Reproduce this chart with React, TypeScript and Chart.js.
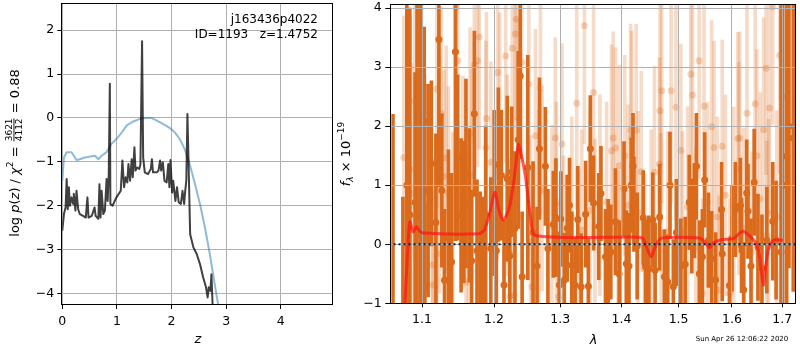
import React, { useEffect, useRef } from "react";
import { Chart, registerables } from "chart.js";
Chart.register(...registerables);

const FONT = "'DejaVu Sans', Verdana, sans-serif";

// ---------- left panel: log p(z) and chi2 ----------
const zP = [0, 0.03, 0.06, 0.08, 0.10, 0.12, 0.14, 0.17, 0.20, 0.21, 0.24, 0.26, 0.29, 0.32, 0.38, 0.43, 0.46, 0.48, 0.54, 0.59, 0.61, 0.66, 0.68, 0.70, 0.72, 0.75, 0.78, 0.81, 0.83, 0.85, 0.87, 0.88, 0.92, 0.99, 1.07, 1.10, 1.13, 1.16, 1.19, 1.21, 1.24, 1.27, 1.29, 1.32, 1.34, 1.37, 1.41, 1.43, 1.46, 1.48, 1.51, 1.57, 1.62, 1.64, 1.66, 1.73, 1.76, 1.79, 1.81, 1.84, 1.87, 1.91, 1.94, 1.96, 1.98, 2.01, 2.03, 2.07, 2.10, 2.13, 2.17, 2.20, 2.23, 2.25, 2.27, 2.29, 2.31, 2.34, 2.40, 2.46, 2.52, 2.58, 2.63, 2.66, 2.68, 2.71, 2.73, 2.75, 2.77];
const logP = [-2.57, -2.19, -2.04, -1.39, -2.08, -1.58, -2.0, -1.81, -1.96, -1.73, -2.11, -1.66, -2.08, -2.19, -2.23, -2.27, -1.81, -2.27, -2.23, -2.04, -2.23, -2.30, -1.51, -2.27, -1.66, -2.19, -2.11, -1.39, -1.89, -1.28, 0.78, -1.96, -2.0, -1.81, -1.66, -0.97, -1.58, -1.35, -1.47, -1.05, -1.43, -0.94, -1.35, -0.67, -1.20, -1.13, -1.16, -1.05, 1.75, -0.90, -1.24, -1.28, -1.16, -0.94, -1.24, -1.24, -1.2, -0.97, -1.20, -1.01, -1.43, -1.47, -1.05, -1.58, -0.96, -1.70, -1.43, -1.89, -1.58, -1.92, -1.96, -1.66, -1.96, -1.66, -1.43, 0.09, -0.97, -2.65, -2.95, -3.10, -3.33, -3.64, -3.86, -4.09, -3.86, -3.94, -3.56, -4.24, -5.0];
const zChi = [0, 0.03, 0.08, 0.17, 0.21, 0.26, 0.32, 0.41, 0.51, 0.60, 0.66, 0.72, 0.81, 0.90, 0.99, 1.09, 1.18, 1.30, 1.42, 1.54, 1.63, 1.73, 1.85, 1.97, 2.06, 2.15, 2.24, 2.34, 2.43, 2.52, 2.61, 2.70, 2.79, 2.85, 2.90];
const chiV = [-1.43, -0.90, -0.78, -0.78, -0.86, -0.96, -0.94, -0.90, -0.88, -0.86, -0.94, -0.86, -0.78, -0.59, -0.48, -0.33, -0.17, -0.08, -0.02, 0.0, 0.0, -0.06, -0.14, -0.23, -0.33, -0.48, -0.71, -1.09, -1.51, -1.96, -2.49, -3.10, -3.79, -4.24, -4.70];
const zTicks = [0, 1, 2, 3, 4];
const pTicks = [-4, -3, -2, -1, 0, 1, 2];
const objName = "j163436p4022";
const objInfo = "ID=1193   z=1.4752";
const chiNum = "3621";
const chiDen = "4112";
const chiRatio = "0.88";

// ---------- right panel: spectrum ----------
const lamA = [1.0620, 1.0749, 1.0800, 1.0839, 1.0908, 1.0934, 1.0981, 1.1029, 1.1037, 1.1081,
  1.1125, 1.1186, 1.1227, 1.1267, 1.1303, 1.1357, 1.1400, 1.1453, 1.1484, 1.1532,
  1.1571, 1.1600, 1.1648, 1.1680, 1.1718, 1.1756, 1.1802, 1.1840, 1.1880, 1.1954,
  1.2002, 1.2034, 1.2064, 1.2107, 1.2146, 1.2194, 1.2230, 1.2260, 1.2308, 1.2356,
  1.2386, 1.2415, 1.2500, 1.2580, 1.2641, 1.2678, 1.2769, 1.2808, 1.2892, 1.2932,
  1.2986, 1.3010, 1.3064, 1.3110, 1.3147, 1.3183, 1.3236, 1.3279, 1.3333, 1.3406,
  1.3450, 1.3482, 1.3535, 1.3620, 1.3656, 1.3731, 1.3776, 1.3820, 1.3897, 1.3960,
  1.4042, 1.4081, 1.4127, 1.4166, 1.4195, 1.4212, 1.4267, 1.4372, 1.4413, 1.4470,
  1.4540, 1.4580, 1.4660, 1.4745, 1.4804, 1.4845, 1.4905, 1.4960, 1.5041, 1.5120,
  1.5194, 1.5242, 1.5290, 1.5327, 1.5380, 1.5438, 1.5480, 1.5550, 1.5612, 1.5686,
  1.5799, 1.5812, 1.5951, 1.6000, 1.6066, 1.6163, 1.6186, 1.6228, 1.6287, 1.6313,
  1.6372, 1.6435, 1.6510, 1.6590, 1.6688, 1.6808, 1.6876, 1.6977, 1.7011, 1.7093,
  1.7140, 1.7230];
const fluxA = [-1.50, -1.20, 1.00, 0.50, 0.71, 0.47, 0.20, 2.08, -0.72, 0.91,
  1.37, 0.37, 3.47, 0.91, -0.61, 0.10, -0.30, 3.26, 1.47, 0.49,
  0.55, 1.20, 0.66, -0.28, 2.21, -0.11, -0.21, -0.40, 0.50, -0.07,
  0.87, -0.11, 1.35, 1.17, -0.69, 1.11, -0.20, 1.23, 0.27, 1.77,
  2.85, -0.55, 1.30, 0.20, -0.37, 1.62, 1.32, -0.07, 0.34, 0.45,
  -0.69, 0.43, -0.61, 0.27, 0.66, -0.35, -0.69, 0.42, -0.72, 0.51,
  -0.71, 1.62, 0.70, 0.30, 0.86, -0.21, -0.14, -0.13, 0.38, -0.50,
  0.94, -0.33, -0.37, 1.00, 1.32, 0.68, -0.03, 0.45, -0.38, -0.42,
  0.41, -0.44, 0.46, -0.55, -0.64, 1.00, -0.72, 0.20, -0.37, -0.34,
  0.71, 0.31, 0.57, 1.32, -0.50, -0.21, 1.09, 0.07, -0.24, -0.60,
  0.59, -0.16, -0.70, 0.10, 0.59, 0.66, -0.02, -0.77, 0.87, 0.56,
  -0.37, 1.05, -0.05, -0.40, 0.07, 0.39, 0.07, -0.13, 1.00, 1.49,
  2.00, 1.80];
const errA = [3.70, 2.00, 4.00, 3.50, 2.20, 3.60, 4.00, 1.60, 1.40, 1.80,
  1.40, 1.50, 2.50, 1.30, 1.20, 1.50, 1.50, 3.20, 1.40, 1.30,
  1.20, 1.60, 1.30, 1.20, 1.40, 1.20, 1.10, 1.20, 1.50, 1.20,
  1.40, 1.10, 1.30, 1.10, 1.10, 1.40, 1.30, 1.10, 1.30, 1.50,
  1.40, 1.10, 1.90, 1.20, 1.00, 1.20, 1.00, 1.00, 0.90, 1.00,
  0.90, 0.80, 0.80, 0.90, 0.80, 0.90, 0.80, 0.90, 0.90, 0.90,
  0.80, 0.90, 0.80, 0.90, 0.80, 0.80, 0.90, 0.80, 0.90, 0.90,
  0.80, 0.90, 0.90, 0.80, 0.90, 0.80, 0.90, 0.80, 0.80, 0.90,
  0.80, 0.80, 0.90, 0.80, 0.80, 0.90, 0.80, 0.90, 0.80, 0.80,
  0.80, 0.80, 0.80, 0.90, 0.90, 0.80, 0.80, 0.80, 0.80, 0.80,
  0.80, 0.80, 0.80, 0.90, 0.80, 0.80, 0.80, 0.80, 0.90, 0.80,
  0.80, 0.90, 0.90, 0.90, 0.90, 1.00, 1.00, 4.50, 5.00, 2.80,
  2.40, 2.60];

const lamB = [1.0761, 1.0815, 1.0839, 1.0861, 1.0904, 1.0947, 1.0972, 1.0994, 1.1037, 1.1139, 1.1146, 1.1199, 1.1201, 1.1236, 1.1259, 1.1296, 1.1326, 1.1357, 1.1416, 1.1462, 1.1484, 1.1555, 1.1601, 1.1637, 1.1658, 1.1680, 1.1718, 1.1764, 1.1788, 1.1883, 1.1891, 1.1954, 1.2026, 1.2054, 1.2084, 1.2171, 1.2194, 1.2235, 1.2245, 1.2268, 1.2294, 1.2312, 1.2327, 1.2367, 1.2407, 1.2516, 1.2542, 1.2566, 1.2617, 1.2667, 1.2693, 1.2717, 1.2871, 1.2923, 1.2940, 1.2975, 1.3026, 1.3053, 1.3183, 1.3262, 1.3290, 1.3343, 1.3386, 1.3477, 1.3535, 1.3557, 1.3640, 1.3749, 1.3831, 1.3860, 1.3900, 1.3942, 1.3960, 1.4054, 1.4110, 1.4156, 1.4173, 1.4250, 1.4281, 1.4338, 1.4396, 1.4510, 1.4569, 1.4657, 1.4667, 1.4685, 1.4697, 1.4804, 1.4864, 1.4951, 1.5041, 1.5072, 1.5163, 1.5223, 1.5254, 1.5315, 1.5377, 1.5438, 1.5468, 1.5531, 1.5611, 1.5656, 1.5718, 1.5750, 1.5812, 1.5874, 1.5958, 1.6035, 1.6113, 1.6132, 1.6151, 1.6228, 1.6293, 1.6390, 1.6455, 1.6490, 1.6555, 1.6622, 1.6674, 1.6688, 1.6722, 1.6742, 1.6808, 1.6890, 1.6950, 1.7000];
const fluxB = [1.47, 0.90, 1.27, 0.86, 2.43, 2.67, 2.74, 2.89, 0.88, -0.35, -0.69, 2.63, -0.16, 1.17, 2.21, 1.15, 1.46, 0.87, 0.10, 4.01, 3.11, 1.05, -0.64, -0.15, 1.87, 1.17, 3.04, 3.11, 3.51, 1.64, 2.13, 1.39, -0.21, 2.91, 2.22, 3.19, 1.17, -0.88, -0.16, 3.32, -0.86, 3.56, 3.81, 2.11, 3.08, 2.71, 0.04, -0.72, 1.84, 0.57, 2.65, 0.91, 0.32, 1.80, 0.71, -0.89, 1.70, -0.10, 0.46, 2.39, -0.33, 0.24, 3.70, 0.57, 2.57, 0.18, 0.83, 0.71, 1.58, 1.80, 1.63, -0.35, 1.33, 1.50, 0.66, 1.93, 1.81, 1.93, 0.55, 1.23, -0.41, 0.24, 1.22, 1.36, 2.26, 0.18, 2.60, 0.21, 2.60, 2.32, 1.59, 0.21, 0.63, 2.88, 2.53, -0.05, 3.11, -0.83, 2.34, 0.71, 1.99, 1.64, 0.46, -0.78, 1.66, 0.83, -0.83, 0.63, 1.79, 1.28, 1.80, 0.27, 2.22, -0.13, 2.38, 1.50, 0.77, 1.94, 2.98, 0.15, 0.52, 2.31, 4.02, 0.46, 3.20, 2.50];
const errB = [2.4, 2.5, 2.6, 2.2, 2.2, 2.0, 2.2, 2.0, 2.0, 1.8,
  1.6, 2.0, 1.8, 2.0, 1.8, 1.8, 1.9, 1.8, 1.8, 2.0,
  2.0, 1.8, 1.7, 1.7, 1.8, 1.8, 1.9, 1.8, 1.9, 1.8,
  1.8, 1.7, 1.6, 1.8, 1.7, 1.8, 1.7, 1.6, 1.6, 1.8,
  1.6, 1.8, 1.7, 1.7, 1.7, 1.7, 1.8, 1.7, 1.8, 1.7,
  1.8, 1.7, 1.7, 1.7, 1.7, 1.6, 1.7, 1.6, 1.7, 1.8,
  1.6, 1.7, 2.0, 1.7, 1.8, 1.6, 1.7, 1.7, 1.8, 1.8,
  1.7, 1.6, 1.7, 1.7, 1.7, 1.8, 1.8, 1.8, 1.7, 1.7,
  1.6, 1.7, 1.8, 1.8, 1.9, 1.7, 1.9, 1.7, 1.9, 1.9,
  1.8, 1.7, 1.7, 1.9, 1.9, 1.7, 2.0, 1.6, 1.9, 1.7,
  1.8, 1.8, 1.7, 1.6, 1.8, 1.7, 1.6, 1.7, 1.8, 1.8,
  1.8, 1.7, 1.9, 1.7, 1.9, 1.8, 1.8, 1.9, 1.8, 1.6,
  1.6, 1.8, 2.0, 1.8, 2.0, 2.5];

const lamModel = [1.0761, 1.0804, 1.0839, 1.0882, 1.0926, 1.0960, 1.1013, 1.1788, 1.1859, 1.1930, 1.2012, 1.2074, 1.2132, 1.2220, 1.2293, 1.2356, 1.2389, 1.2466, 1.2542, 1.2617, 1.4281, 1.4366, 1.4418, 1.4510, 1.4592, 1.4685, 1.5407, 1.5512, 1.5574, 1.5643, 1.5812, 1.6034, 1.6211, 1.6455, 1.6531, 1.6583, 1.6622, 1.6660, 1.6722, 1.6822, 1.7016];
const fluxModel = [-1.30, -0.27, 0.38, 0.21, 0.30, 0.24, 0.19, 0.18, 0.24, 0.49, 0.88, 0.57, 0.41, 0.60, 1.08, 1.69, 1.59, 1.14, 0.46, 0.15, 0.12, 0.10, -0.02, -0.21, -0.02, 0.10, 0.10, 0.00, -0.06, 0.02, 0.08, 0.10, 0.22, 0.04, -0.15, -0.49, -0.69, -0.40, -0.09, 0.07, 0.07];
const lamZero = [1.05, 1.74];
const fluxZero = [0, 0];
const lamTicks = [1.1, 1.2, 1.3, 1.4, 1.5, 1.6, 1.7];
const fTicks = [-1, 0, 1, 2, 3, 4];
const stamp = "Sun Apr 26 12:06:22 2020";

const ORANGE = "rgb(218,106,28)";
const ORANGE_BAR_LIGHT = "rgba(218,106,28,0.24)";
const ORANGE_DOT_LIGHT = "rgba(218,106,28,0.28)";
const GRID = "#b0b0b0";

const minus = (v: number) => String(v).replace("-", "\u2212");

type Part = { t?: string; f: string; dy?: number; num?: string; den?: string };

function drawRotatedRich(ctx: CanvasRenderingContext2D, parts: Part[], cx: number, cy: number, baseline: number) {
  ctx.save();
  ctx.translate(cx, cy);
  ctx.rotate(-Math.PI / 2);
  ctx.fillStyle = "#000";
  ctx.textBaseline = "alphabetic";
  ctx.textAlign = "left";
  const widths = parts.map((p) => {
    ctx.font = p.f;
    if (p.num !== undefined) return Math.max(ctx.measureText(p.num).width, ctx.measureText(p.den || "").width) + 2;
    return ctx.measureText(p.t || "").width;
  });
  const total = widths.reduce((a, b) => a + b, 0);
  let x = -total / 2;
  parts.forEach((p, i) => {
    ctx.font = p.f;
    const w = widths[i];
    if (p.num !== undefined) {
      ctx.textAlign = "center";
      ctx.fillText(p.num, x + w / 2, -1.8);
      ctx.fillText(p.den || "", x + w / 2, 8.2);
      ctx.fillRect(x + 1, -0.5, w - 2, 0.9);
      ctx.textAlign = "left";
    } else {
      ctx.fillText(p.t || "", x, baseline + (p.dy || 0));
    }
    x += w;
  });
  ctx.restore();
}

function frame(chart: any) {
  const { ctx, chartArea: a } = chart;
  ctx.save();
  ctx.strokeStyle = "#000";
  ctx.lineWidth = 1;
  ctx.strokeRect(Math.round(a.left) - 0.5, Math.round(a.top) + 0.5, Math.round(a.right - a.left), Math.round(a.bottom - a.top));
  ctx.restore();
}

const leftDecor = {
  id: "leftDecor",
  afterDraw(chart: any) {
    frame(chart);
    const ctx = chart.ctx as CanvasRenderingContext2D;
    ctx.save();
    ctx.fillStyle = "#000";
    ctx.font = `12px ${FONT}`;
    ctx.textAlign = "right";
    ctx.textBaseline = "middle";
    ctx.fillText(objName, 318, 20);
    ctx.fillText(objInfo, 318, 35);
    ctx.restore();
    const b = `13px ${FONT}`;
    const it = `italic 13px ${FONT}`;
    const sm = `9px ${FONT}`;
    drawRotatedRich(ctx, [
      { t: "log ", f: b }, { t: "p", f: it }, { t: "(", f: b }, { t: "z", f: it }, { t: ") / ", f: b },
      { t: "\u03c7", f: it }, { t: "2", f: sm, dy: -5.5 }, { t: " = ", f: b },
      { num: chiNum, den: chiDen, f: sm }, { t: " = " + chiRatio, f: b },
    ], 14, 153, 4.5);
  },
};

// re-draws the grid of the right panel above the error bars but below the model / zero lines
const gridOver = {
  id: "gridOver",
  afterDatasetDraw(chart: any, args: any) {
    if (args.index !== 3) return;
    const { ctx, chartArea: a, scales } = chart;
    const al = (p: number) => Math.round(p - 0.5) + 0.5;
    ctx.save();
    ctx.beginPath();
    ctx.rect(a.left, a.top, a.right - a.left, a.bottom - a.top);
    ctx.clip();
    ctx.strokeStyle = GRID;
    ctx.lineWidth = 1;
    ctx.beginPath();
    lamTicks.forEach((v) => {
      const px = al(scales.x.getPixelForValue(v));
      ctx.moveTo(px, a.top);
      ctx.lineTo(px, a.bottom);
    });
    fTicks.forEach((v) => {
      const py = al(scales.y.getPixelForValue(v));
      ctx.moveTo(a.left, py);
      ctx.lineTo(a.right, py);
    });
    ctx.stroke();
    ctx.restore();
  },
};

const rightDecor = {
  id: "rightDecor",
  afterDraw(chart: any) {
    frame(chart);
    const ctx = chart.ctx as CanvasRenderingContext2D;
    const b = `13px ${FONT}`;
    const it = `italic 13px ${FONT}`;
    const sm = `9px ${FONT}`;
    const smi = `italic 9px ${FONT}`;
    drawRotatedRich(ctx, [
      { t: "f", f: it }, { t: "\u03bb", f: smi, dy: 3 }, { t: " \u00d7 10", f: b }, { t: "\u221219", f: sm, dy: -5.5 },
    ], 15, 154, 4.5);
    ctx.save();
    ctx.fillStyle = "#000";
    ctx.font = `7px ${FONT}`;
    ctx.textAlign = "center";
    ctx.textBaseline = "middle";
    ctx.fillText(stamp, 742 - 330, 339);
    ctx.restore();
  },
};

const tickFont = { family: FONT, size: 12.5 };

function leftConfig(): any {
  return {
    type: "scatter",
    data: {
      datasets: [
        {
          data: zChi.map((z, i) => ({ x: z, y: chiV[i] })),
          showLine: true, borderColor: "rgba(31,119,180,0.5)", borderWidth: 2, pointRadius: 0,
          borderJoinStyle: "round", order: 2,
        },
        {
          data: zP.map((z, i) => ({ x: z, y: logP[i] })),
          showLine: true, borderColor: "rgba(0,0,0,0.75)", borderWidth: 2, pointRadius: 0,
          borderJoinStyle: "round", order: 1,
        },
      ],
    },
    options: {
      responsive: false, animation: false, devicePixelRatio: 1, events: [],
      layout: { padding: { left: 0, right: 1.7, top: 3, bottom: 0 } },
      plugins: { legend: { display: false }, tooltip: { enabled: false } },
      scales: {
        x: {
          type: "linear", min: 0, max: 4.96,
          afterBuildTicks: (s: any) => { s.ticks = zTicks.map((v) => ({ value: v })); },
          afterFit: (s: any) => { s.height = 46; s.paddingLeft = 0; s.paddingRight = 0; },
          grid: { color: GRID, lineWidth: 1, tickColor: "#000", tickLength: 5, tickWidth: 1 },
          border: { display: false },
          ticks: { font: tickFont, color: "#000", padding: 5, maxRotation: 0, callback: (v: number) => minus(v) },
          title: { display: true, text: "z", color: "#000", font: { family: FONT, size: 13, style: "italic" }, padding: { top: 0, bottom: 3 } },
        },
        y: {
          type: "linear", min: -4.24, max: 2.62,
          afterBuildTicks: (s: any) => { s.ticks = pTicks.map((v) => ({ value: v })); },
          afterFit: (s: any) => { s.width = 62.3; s.paddingTop = 0; s.paddingBottom = 0; },
          grid: { color: GRID, lineWidth: 1, tickColor: "#000", tickLength: 5, tickWidth: 1 },
          border: { display: false },
          ticks: { font: tickFont, color: "#000", padding: 3, callback: (v: number) => minus(v) },
        },
      },
    },
    plugins: [leftDecor],
  };
}

function rightConfig(): any {
  return {
    type: "scatter",
    data: {
      datasets: [
        {
          type: "bar", data: lamB.map((l, i) => ({ x: l, y: [fluxB[i] - errB[i], fluxB[i] + errB[i]] })),
          backgroundColor: ORANGE_BAR_LIGHT, barThickness: 3, grouped: false, borderWidth: 0, order: 6,
        },
        {
          type: "bar", data: lamA.map((l, i) => ({ x: l, y: [fluxA[i] - errA[i], fluxA[i] + errA[i]] })),
          backgroundColor: ORANGE, barThickness: 3, grouped: false, borderWidth: 0, order: 5,
        },
        {
          type: "scatter", data: lamB.map((l, i) => ({ x: l, y: fluxB[i] })),
          backgroundColor: ORANGE_DOT_LIGHT, borderColor: "rgba(0,0,0,0)", pointRadius: 3.5, pointBorderWidth: 0, order: 4,
        },
        {
          type: "scatter", data: lamA.map((l, i) => ({ x: l, y: fluxA[i] })),
          backgroundColor: ORANGE, borderColor: "rgba(0,0,0,0)", pointRadius: 3.5, pointBorderWidth: 0, order: 3,
        },
        {
          type: "line", data: lamModel.map((l, i) => ({ x: l, y: fluxModel[i] })),
          borderColor: "rgba(255,20,20,0.7)", borderWidth: 3, pointRadius: 0, tension: 0.25,
          borderJoinStyle: "round", fill: false, order: 2,
        },
        {
          type: "line", data: lamZero.map((l, i) => ({ x: l, y: fluxZero[i] })),
          borderColor: "rgba(0,0,0,0.85)", borderWidth: 2, borderDash: [2, 3], pointRadius: 0, fill: false, order: 1,
        },
      ],
    },
    options: {
      responsive: false, animation: false, devicePixelRatio: 1, events: [],
      layout: { padding: { left: 0, right: 1, top: 3, bottom: 0 } },
      plugins: { legend: { display: false }, tooltip: { enabled: false } },
      scales: {
        x: {
          type: "logarithmic", min: 1.0599, max: 1.7287, offset: false,
          afterBuildTicks: (s: any) => { s.ticks = lamTicks.map((v) => ({ value: v })); },
          afterFit: (s: any) => { s.height = 46.7; s.paddingLeft = 0; s.paddingRight = 0; },
          grid: { offset: false, color: GRID, lineWidth: 1, tickColor: "#000", tickLength: 4, tickWidth: 1 },
          border: { display: false },
          ticks: { font: tickFont, color: "#000", padding: 5, maxRotation: 0, autoSkip: false, callback: (v: number) => Number(v).toFixed(1) },
          title: { display: true, text: "\u03bb", color: "#000", font: { family: FONT, size: 13, style: "italic" }, padding: { top: 0, bottom: 1.5 } },
        },
        y: {
          type: "linear", min: -1.0, max: 4.07,
          afterBuildTicks: (s: any) => { s.ticks = fTicks.map((v) => ({ value: v })); },
          afterFit: (s: any) => { s.width = 61.3; s.paddingTop = 0; s.paddingBottom = 0; },
          grid: { color: GRID, lineWidth: 1, tickColor: "#000", tickLength: 6, tickWidth: 1 },
          border: { display: false },
          ticks: { font: tickFont, color: "#000", padding: 3.5, callback: (v: number) => minus(v) },
        },
      },
    },
    plugins: [gridOver, rightDecor],
  };
}

export default function App() {
  const leftRef = useRef<HTMLCanvasElement>(null);
  const rightRef = useRef<HTMLCanvasElement>(null);
  useEffect(() => {
    const left = new Chart(leftRef.current as HTMLCanvasElement, leftConfig());
    const right = new Chart(rightRef.current as HTMLCanvasElement, rightConfig());
    return () => {
      left.destroy();
      right.destroy();
    };
  }, []);
  return (
    <div style={{ position: "absolute", left: 0, top: 0, width: 800, height: 350, background: "#fff", overflow: "hidden" }}>
      <canvas ref={leftRef} width={335} height={350} style={{ position: "absolute", left: 0, top: 0, width: 335, height: 350 }} />
      <canvas ref={rightRef} width={470} height={350} style={{ position: "absolute", left: 330, top: 0, width: 470, height: 350 }} />
    </div>
  );
}
